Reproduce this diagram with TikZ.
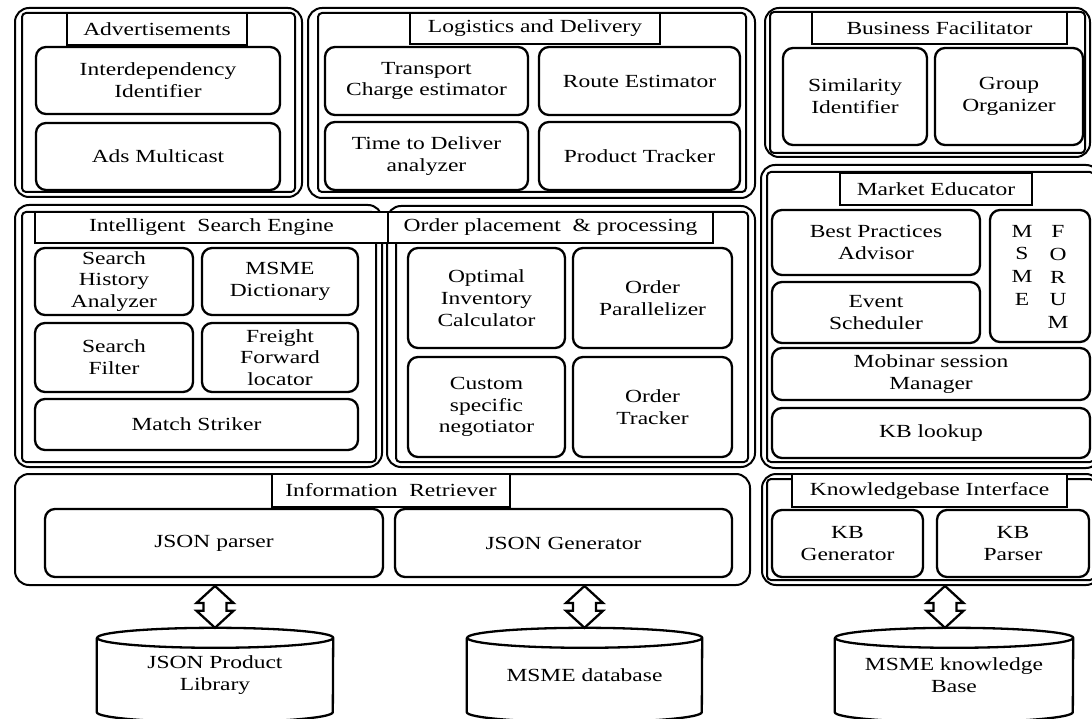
\documentclass[tikz,border=0pt]{standalone}
\usepackage{fontspec}
\setmainfont[FakeStretch=1.27]{Liberation Serif}
\usetikzlibrary{calc}
\newcommand\fs{\fontsize{18.5}{21.8}\selectfont}
\tikzset{
  outerA/.style={draw, line width=2pt, rounded corners=14pt, inner sep=0pt},
  outerB/.style={draw, line width=2pt, rounded corners=4pt, inner sep=0pt},
  ibox/.style={draw, line width=2.3pt, rounded corners=10pt, align=center, inner sep=0pt, font=\fs},
  tbox/.style={draw, line width=2.3pt, fill=white, inner sep=0pt, font=\fs},
  harrow/.style={draw, line width=2.3pt, fill=white, line join=miter},
  cylbody/.style={inner sep=0pt, align=center, font=\fs},
  cylline/.style={draw, line width=2.3pt},
}
\newcommand\bx[6]{\node[#1, minimum width={#4-#2}, minimum height={#5-#3}] at ({(#2+#4)/2},{(#3+#5)/2}) {#6};}
\newcommand\dbarrow[2]{%
  \draw[harrow] (#1) -- ++(18.5,17) -- ++(-7,0) -- ($(#2)+(11.5,-17)$) -- ++(7,0) -- (#2)
    -- ++(-18.5,-17) -- ++(7,0) -- ($(#1)+(-11.5,17)$) -- ++(-7,0) -- cycle;}
\newcommand\dbcyl[2]{% name, x radius
  \draw[cylline] (#1.north west) -- (#1.south west)
    arc[start angle=180, end angle=360, x radius=#2pt, y radius=10pt] -- (#1.north east)
    arc[start angle=0, end angle=360, x radius=#2pt, y radius=10pt];}
\begin{document}
\begin{tikzpicture}[x=1pt,y=-1pt]
\useasboundingbox (0,0) rectangle (1092,719);
\fill[white] (0,0) rectangle (1092,719);
\clip (0,0) rectangle (1092,719);

% ---------- Advertisements ----------
\bx{outerA,name=advO}{15}{8}{302}{197}{}
\bx{outerB,name=advI}{22}{13}{295}{192}{}
\bx{tbox,name=advT}{67}{13}{247}{45}{Advertisements}
\bx{ibox,name=idep}{36}{47}{280}{114}{Interdependency\\Identifier}
\bx{ibox,name=ads}{36}{123}{280}{190}{Ads Multicast}

% ---------- Logistics ----------
\bx{outerA,name=logO}{308}{8}{755}{198}{}
\bx{outerB,name=logI}{318}{13}{746}{192}{}
\bx{tbox,name=logT}{410}{13}{660}{44}{Logistics and Delivery}
\bx{ibox,name=tce}{325}{47}{528}{115}{Transport\\Charge estimator}
\bx{ibox,name=rte}{539}{47}{740}{115}{Route Estimator}
\bx{ibox,name=tda}{325}{122}{528}{190}{Time to Deliver\\analyzer}
\bx{ibox,name=ptr}{539}{122}{740}{190}{Product Tracker}

% ---------- Business Facilitator ----------
\bx{outerA,name=bfO}{765}{8}{1090}{157}{}
\bx{outerB,name=bfI}{770}{12}{1085}{153}{}
\bx{tbox,name=bfT}{812}{12}{1067}{44}{Business Facilitator}
\bx{ibox,name=sim}{783}{48}{927}{145}{Similarity\\Identifier}
\bx{ibox,name=grp}{935}{48}{1083}{145}{Group\\Organizer}

% ---------- Market Educator ----------
\bx{outerA,name=meO}{761}{165}{1100}{468}{}
\bx{outerB,name=meI}{767}{172}{1094}{462}{}
\bx{tbox,name=meT}{840}{173}{1032}{205}{Market Educator}
\bx{ibox,name=bpa}{772}{210}{980}{275}{Best Practices\\Advisor}
\bx{ibox,name=evs}{772}{282}{980}{343}{Event\\Scheduler}
\bx{ibox,name=forum}{990}{210}{1090}{342}{}
\node[font=\fontsize{18.5}{22.7}\selectfont, align=center, inner sep=0pt] (forumL) at (1022,265) {M\\S\\M\\E};
\node[font=\fontsize{18.5}{22.7}\selectfont, align=center, inner sep=0pt] (forumR) at (1058,277) {F\\O\\R\\U\\M};
\bx{ibox,name=mob}{772}{348}{1090}{400}{Mobinar session\\Manager}
\bx{ibox,name=kbl}{772}{408}{1090}{458}{KB lookup}

% ---------- Intelligent Search Engine ----------
\bx{outerA,name=iseO}{15}{205}{382}{467}{}
\bx{outerB,name=iseI}{22}{212}{376}{462}{}
% ---------- Order placement ----------
\bx{outerA,name=opO}{387}{206}{755}{467}{}
\bx{outerB,name=opI}{396}{212}{748}{462}{}
\bx{tbox,name=iseT}{35}{212}{388}{243}{Intelligent\ \ Search Engine}
\bx{tbox,name=opT}{388}{212}{713}{243}{Order placement\ \ \& processing}
\bx{ibox,name=sha}{35}{248}{193}{315}{Search\\History\\Analyzer}
\bx{ibox,name=dict}{202}{248}{358}{315}{MSME\\Dictionary}
\bx{ibox,name=sf}{35}{323}{193}{392}{Search\\Filter}
\bx{ibox,name=ffl}{202}{323}{358}{392}{Freight\\Forward\\locator}
\bx{ibox,name=ms}{35}{399}{358}{450}{Match Striker}
\bx{ibox,name=oic}{408}{248}{565}{348}{Optimal\\Inventory\\Calculator}
\bx{ibox,name=opar}{573}{248}{732}{348}{Order\\Parallelizer}
\bx{ibox,name=csn}{408}{357}{565}{457}{Custom\\specific\\negotiator}
\bx{ibox,name=otr}{573}{357}{732}{457}{Order\\Tracker}

% ---------- Information Retriever ----------
\bx{outerA,name=irO}{15}{474}{750}{585}{}
\bx{tbox,name=irT}{272}{474}{510}{507}{Information\ \ Retriever}
\bx{ibox,name=jp}{45}{509}{383}{577}{JSON parser}
\bx{ibox,name=jg}{395}{509}{732}{577}{JSON Generator}

% ---------- Knowledgebase Interface ----------
\bx{outerA,name=kbO}{762}{474}{1100}{585}{}
\bx{outerB,name=kbI}{767}{479}{1094}{580}{}
\bx{tbox,name=kbT}{792}{474}{1067}{507}{Knowledgebase Interface}
\bx{ibox,name=kbg}{772}{510}{923}{577}{KB\\Generator}
\bx{ibox,name=kbp}{937}{510}{1089}{577}{KB\\Parser}

% ---------- Databases ----------
\bx{cylbody,name=db1}{97}{638}{333}{712}{JSON Product\\Library}
\bx{cylbody,name=db2}{467}{638}{702}{712}{MSME database}
\bx{cylbody,name=db3}{835}{638}{1073}{712}{MSME knowledge\\Base}
\dbcyl{db1}{118}
\dbcyl{db2}{117.5}
\dbcyl{db3}{119}

% ---------- Arrows ----------
\coordinate (a1) at (db1.north |- irO.south);
\coordinate (b1) at ($(db1.north)+(0,-10)$);
\coordinate (a2) at (db2.north |- irO.south);
\coordinate (b2) at ($(db2.north)+(0,-10)$);
\coordinate (a3) at ($(db3.north |- kbO.south)+(-9,0)$);
\coordinate (b3) at ($(db3.north)+(-9,-10)$);
\dbarrow{a1}{b1}
\dbarrow{a2}{b2}
\dbarrow{a3}{b3}
\end{tikzpicture}
\end{document}
